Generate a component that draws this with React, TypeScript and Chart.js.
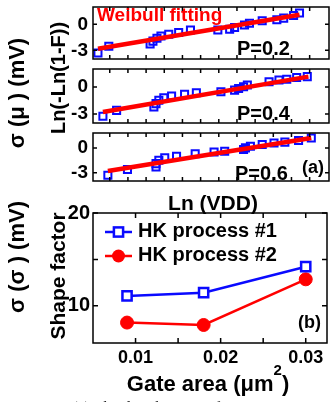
import React, { useEffect, useRef } from 'react';
import { Chart, registerables } from 'chart.js';

Chart.register(...registerables);

const SANS = '"Liberation Sans", Arial, Helvetica, sans-serif';
const SERIF = '"Liberation Serif", "Times New Roman", serif';
const BLUE = '#0a0aff';
const RED = '#ff0000';

// ---- (a) Weibull plots: Ln(-Ln(1-F)) versus Ln(VDD) ----
const lnVddTicks = [0.71, 1.48, 2.25, 3.02, 3.79, 4.56, 5.33, 6.1, 6.87, 7.64, 8.41, 9.18];
const weibTicks = [-3, -1.5, 0, 1.5];
const weibTickLabels = ['-3', '', '0', ''];

const lnVdd02 = [0.21, 0.67, 2.42, 2.54, 2.71, 2.88, 3.21, 3.63, 4.13, 5.29, 5.79, 6.0, 6.42, 6.63, 7.17, 7.79, 8.08, 8.5, 8.75];
const weib02 = [-3.31, -2.53, -2.27, -1.94, -1.6, -1.35, -1.15, -0.95, -0.66, -0.66, -0.56, -0.36, -0.07, 0.13, 0.42, 0.52, 0.72, 1.01, 1.31];
const fitX02 = [0.21, 8.75];
const fitY02 = [-2.82, 1.11];

const lnVdd04 = [0.42, 1.0, 2.58, 2.67, 2.79, 3.0, 3.33, 3.88, 4.38, 5.42, 6.0, 6.17, 6.38, 6.54, 7.46, 7.88, 8.21, 8.63, 9.08];
const weib04 = [-3.25, -2.6, -2.22, -1.85, -1.47, -1.19, -1.0, -0.82, -0.63, -0.53, -0.35, -0.16, 0.03, 0.22, 0.59, 0.78, 0.87, 1.06, 1.15];
const fitX04 = [0.42, 9.13];
const fitY04 = [-2.78, 1.15];

const lnVdd06 = [0.63, 1.46, 2.67, 2.67, 2.79, 3.04, 3.54, 4.33, 5.13, 5.58, 6.38, 6.46, 6.67, 7.17, 7.67, 8.13, 8.71, 9.25];
const weib06 = [-3.3, -2.6, -2.3, -1.9, -1.5, -1.2, -1.0, -0.7, -0.5, -0.4, -0.2, 0.0, 0.2, 0.4, 0.6, 0.7, 0.9, 1.2];
const fitX06 = [0.63, 9.25];
const fitY06 = [-2.8, 1.2];

// ---- (b) Weibull shape factor versus gate area ----
const gateArea = [0.009, 0.018, 0.03];
const shapeHK1 = [11.07, 11.42, 14.22];
const shapeHK2 = [8.2, 7.94, 12.86];
const seriesNames = ['HK process #1', 'HK process #2'];
const areaTicks = [0.01, 0.015, 0.02, 0.025, 0.03];
const areaTickLabels = ['0.01', '', '0.02', '', '0.03'];
const shapeTicks = [10, 15, 20];
const shapeTickLabels = ['10', '', '20'];

const pts = (xs: number[], ys: number[]) => xs.map((x, i) => ({ x, y: ys[i] }));

// Box frame with inward tick marks on all four sides, plus optional in-plot legend
const framePlugin = {
  id: 'frame',
  afterDatasetsDraw(chart: any, _args: any, opts: any) {
    const { ctx, chartArea: a } = chart;
    const xs = chart.scales.x;
    const ys = chart.scales.y;
    const L = opts.tickLen ?? 5;
    ctx.save();
    ctx.strokeStyle = '#000';
    ctx.lineWidth = opts.lineWidth ?? 1.5;
    ctx.strokeRect(a.left, a.top, a.right - a.left, a.bottom - a.top);
    ctx.beginPath();
    for (const v of opts.xTicks || []) {
      const px = xs.getPixelForValue(v);
      ctx.moveTo(px, a.bottom);
      ctx.lineTo(px, a.bottom - L);
      ctx.moveTo(px, a.top);
      ctx.lineTo(px, a.top + L);
    }
    for (const t of ys.ticks) {
      const py = ys.getPixelForValue(t.value);
      ctx.moveTo(a.left, py);
      ctx.lineTo(a.left + L, py);
      ctx.moveTo(a.right, py);
      ctx.lineTo(a.right - L, py);
    }
    ctx.stroke();

    const lg = opts.legend;
    if (lg) {
      chart.data.datasets.forEach((ds: any, i: number) => {
        const y = lg.rows[i];
        ctx.strokeStyle = ds.borderColor;
        ctx.lineWidth = ds.borderWidth;
        ctx.beginPath();
        ctx.moveTo(lg.x0, y);
        ctx.lineTo(lg.x1, y);
        ctx.stroke();
        const cx = (lg.x0 + lg.x1) / 2;
        const r = ds.pointRadius;
        if (ds.pointStyle === 'rect') {
          const s = r * Math.SQRT1_2;
          ctx.fillStyle = '#fff';
          ctx.fillRect(cx - s, y - s, 2 * s, 2 * s);
          ctx.lineWidth = ds.pointBorderWidth;
          ctx.strokeRect(cx - s, y - s, 2 * s, 2 * s);
        } else {
          ctx.fillStyle = ds.pointBackgroundColor;
          ctx.beginPath();
          ctx.arc(cx, y, r, 0, Math.PI * 2);
          ctx.fill();
        }
        ctx.fillStyle = '#000';
        ctx.font = `bold ${lg.size}px ${SANS}`;
        ctx.textBaseline = 'alphabetic';
        ctx.fillText(ds.label, lg.textX, y + lg.baseShift);
      });
    }
    ctx.restore();
  },
};

function ChartCanvas({ left, top, width, height, make }: any) {
  const ref = useRef<HTMLCanvasElement>(null);
  useEffect(() => {
    const chart = new Chart(ref.current as HTMLCanvasElement, make());
    return () => chart.destroy();
  }, []);
  return (
    <canvas
      ref={ref}
      width={width}
      height={height}
      style={{ position: 'absolute', left, top, width, height }}
    />
  );
}

function weibullConfig(xs: number[], ys: number[], fx: number[], fy: number[], yMin: number, yMax: number, padTop: number, padBottom: number) {
  return {
    type: 'scatter',
    data: {
      datasets: [
        {
          label: 'Weibull fitting',
          data: pts(fx, fy),
          showLine: true,
          borderColor: RED,
          borderWidth: 4.5,
          pointRadius: 0,
          order: 0,
        },
        {
          label: 'data',
          data: pts(xs, ys),
          showLine: false,
          pointStyle: 'rect',
          pointRadius: 5,
          borderWidth: 2,
          borderColor: BLUE,
          backgroundColor: 'rgba(255,255,255,0)',
          order: 1,
        },
      ],
    },
    options: {
      animation: false,
      responsive: false,
      events: [],
      layout: { padding: { left: 0, right: 3, top: padTop, bottom: padBottom } },
      plugins: {
        legend: { display: false },
        tooltip: { enabled: false },
        frame: { xTicks: lnVddTicks, tickLen: 4, lineWidth: 1.5 },
      },
      scales: {
        x: { type: 'linear', display: false, min: 0, max: 10 },
        y: {
          type: 'linear',
          min: yMin,
          max: yMax,
          afterBuildTicks: (s: any) => {
            s.ticks = weibTicks.map((v) => ({ value: v }));
          },
          afterFit: (s: any) => {
            s.width = 93;
            s.paddingTop = 0;
            s.paddingBottom = 0;
          },
          grid: { display: false, drawTicks: false },
          border: { display: false },
          ticks: {
            padding: 5,
            color: '#000',
            font: { family: SANS, size: 19, weight: 'bold' },
            callback: (_v: any, i: number) => weibTickLabels[i],
          },
        },
      },
    },
    plugins: [framePlugin],
  };
}

function shapeConfig() {
  return {
    type: 'scatter',
    data: {
      datasets: [
        {
          label: seriesNames[0],
          data: pts(gateArea, shapeHK1),
          showLine: true,
          borderColor: BLUE,
          borderWidth: 2.5,
          pointStyle: 'rect',
          pointRadius: 6.5,
          pointBorderWidth: 2.5,
          pointBorderColor: BLUE,
          pointBackgroundColor: '#fff',
        },
        {
          label: seriesNames[1],
          data: pts(gateArea, shapeHK2),
          showLine: true,
          borderColor: RED,
          borderWidth: 2.5,
          pointStyle: 'circle',
          pointRadius: 6.5,
          pointBorderWidth: 1,
          pointBorderColor: RED,
          pointBackgroundColor: RED,
        },
      ],
    },
    options: {
      animation: false,
      responsive: false,
      events: [],
      layout: { padding: { left: 0, right: 3, top: 13, bottom: 0 } },
      plugins: {
        legend: { display: false },
        tooltip: { enabled: false },
        frame: {
          xTicks: areaTicks,
          tickLen: 5,
          lineWidth: 1.5,
          legend: { x0: 105, x1: 132, rows: [32, 56], textX: 138, baseShift: 5, size: 20 },
        },
      },
      scales: {
        x: {
          type: 'linear',
          min: 0.005,
          max: 0.0325,
          afterBuildTicks: (s: any) => {
            s.ticks = areaTicks.map((v) => ({ value: v }));
          },
          afterFit: (s: any) => {
            s.height = 59;
            s.paddingLeft = 0;
            s.paddingRight = 0;
          },
          grid: { display: false, drawTicks: false },
          border: { display: false },
          ticks: {
            padding: 4,
            maxRotation: 0,
            autoSkip: false,
            color: '#000',
            font: { family: SANS, size: 18, weight: 'bold' },
            callback: (_v: any, i: number) => areaTickLabels[i],
          },
        },
        y: {
          type: 'linear',
          min: 6,
          max: 20,
          afterBuildTicks: (s: any) => {
            s.ticks = shapeTicks.map((v) => ({ value: v }));
          },
          afterFit: (s: any) => {
            s.width = 93;
            s.paddingTop = 0;
            s.paddingBottom = 0;
          },
          grid: { display: false, drawTicks: false },
          border: { display: false },
          ticks: {
            padding: 3,
            color: '#000',
            font: { family: SANS, size: 20, weight: 'bold' },
            callback: (_v: any, i: number) => shapeTickLabels[i],
          },
        },
      },
    },
    plugins: [framePlugin],
  };
}

// Text placed by its baseline (line-height 1 with Liberation Sans metrics)
function Label({ x, base, size, color = '#000', anchor = 'start', family = SANS, weight = 'bold', children }: any) {
  const shift = anchor === 'middle' ? 'translateX(-50%)' : anchor === 'end' ? 'translateX(-100%)' : 'none';
  return (
    <div
      style={{
        position: 'absolute',
        left: x,
        top: base - 0.8465 * size,
        fontSize: size,
        lineHeight: `${size}px`,
        fontFamily: family,
        fontWeight: weight,
        color,
        whiteSpace: 'nowrap',
        transform: shift,
      }}
    >
      {children}
    </div>
  );
}

function VLabel({ cx, cy, size, children }: any) {
  return (
    <div
      style={{
        position: 'absolute',
        left: cx,
        top: cy,
        fontSize: size,
        lineHeight: `${size}px`,
        fontFamily: SANS,
        fontWeight: 'bold',
        color: '#000',
        whiteSpace: 'nowrap',
        transform: 'translate(-50%, -50%) rotate(-90deg)',
      }}
    >
      {children}
    </div>
  );
}

export default function App() {
  return (
    <div
      style={{
        position: 'absolute',
        left: 0,
        top: 0,
        width: 336,
        height: 402,
        overflow: 'hidden',
        background: '#fff',
      }}
    >
      <ChartCanvas left={0} top={0} width={336} height={66}
        make={() => weibullConfig(lnVdd02, weib02, fitX02, fitY02, -4, 2, 3, 2)} />
      <ChartCanvas left={0} top={62} width={336} height={68}
        make={() => weibullConfig(lnVdd04, weib04, fitX04, fitY04, -4, 2, 2, 2)} />
      <ChartCanvas left={0} top={126} width={336} height={62}
        make={() => weibullConfig(lnVdd06, weib06, fitX06, fitY06, -4, 1.8, 2, 2)} />
      <ChartCanvas left={0} top={200} width={336} height={202} make={shapeConfig} />

      <Label x={97} base={21} size={19} color={RED}>Weibull fitting</Label>
      <Label x={237} base={55} size={20}>P=0.2</Label>
      <Label x={237} base={120} size={20}>P=0.4</Label>
      <Label x={235} base={180} size={20}>P=0.6</Label>
      <Label x={302} base={173} size={18}>(a)</Label>
      <Label x={298} base={328} size={18}>(b)</Label>

      <Label x={213} base={210} size={21} anchor="middle">Ln (VDD)</Label>
      <Label x={208} base={392} size={22} anchor="middle">
        Gate area (μm<sup style={{ fontSize: 15, verticalAlign: 0, position: 'relative', top: -16 }}>2</sup>)
      </Label>

      <VLabel cx={58} cy={78} size={20}>Ln(-Ln(1-F))</VLabel>
      <VLabel cx={57} cy={276} size={21}>Shape factor</VLabel>
      <VLabel cx={17} cy={93} size={22}>σ (μ ) (mV)</VLabel>
      <VLabel cx={17} cy={257} size={22}>σ (σ ) (mV)</VLabel>

      <Label x={23} base={414} size={16} weight="normal" family={SERIF} color="#222">
        Fig. 20 (a) The distributions of 10
      </Label>
    </div>
  );
}
